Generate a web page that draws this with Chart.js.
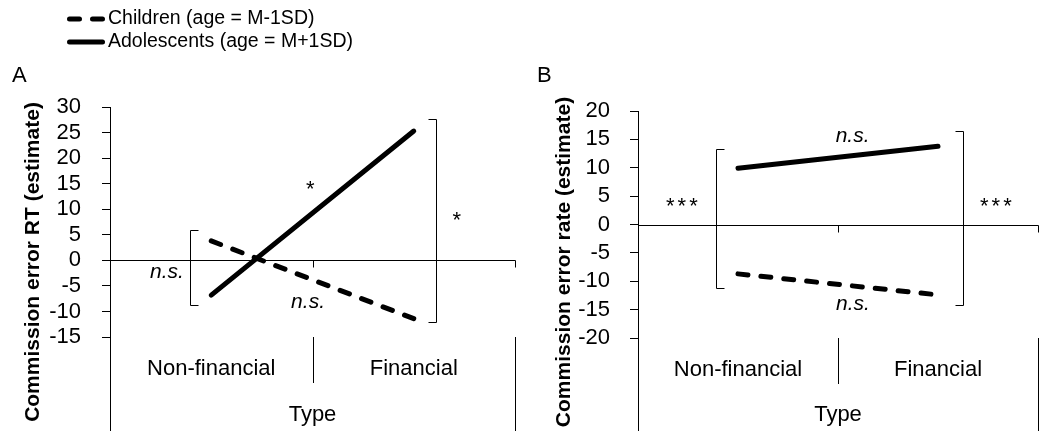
<!DOCTYPE html>
<html>
<head>
<meta charset="utf-8">
<script src="https://cdn.jsdelivr.net/npm/chart.js@4.4.1/dist/chart.umd.min.js"></script>
<style>
  html, body { margin: 0; padding: 0; background: #fff; }
  #wrap { position: relative; width: 1051px; height: 431px; }
  canvas { position: absolute; top: 0; }
</style>
</head>
<body>
<div id="wrap">
  <canvas id="chartA" width="525" height="431" style="left:0"></canvas>
  <canvas id="chartB" width="526" height="431" style="left:525px"></canvas>
</div>
<script>
const FONT = 'Liberation Sans';
Chart.defaults.font.family = FONT;
Chart.defaults.color = '#000';

const categories = ['Non-financial', 'Financial'];
const seriesNames = ['Children (age = M-1SD)', 'Adolescents (age = M+1SD)'];

// panel A - commission error RT
const childrenRT = [3.8, -11.4];
const adolescentsRT = [-6.8, 25.3];
const ticksRT = [-15, -10, -5, 0, 5, 10, 15, 20, 25, 30];

// panel B - commission error rate
const childrenRate = [-8.7, -12.4];
const adolescentsRate = [9.9, 13.8];
const ticksRate = [-20, -15, -10, -5, 0, 5, 10, 15, 20];

// brackets and significance marks, in axis units (x = category index)
const bracketsA = [
  {x: -0.105, top: 5.9, bottom: -8.75, dir: 1},
  {x: 1.11, top: 27.65, bottom: -12.0, dir: -1}
];
const notesA = [
  {x: -0.219, y: -3.46, text: 'n.s.', italic: true},
  {x: 0.478, y: -9.33, text: 'n.s.', italic: true},
  {x: 0.489, y: 12.5, text: '*'},
  {x: 1.212, y: 6.6, text: '*'}
];
const bracketsB = [
  {x: -0.11, top: 13.3, bottom: -11.25, dir: 1},
  {x: 1.127, top: 16.5, bottom: -14.2, dir: -1}
];
const notesB = [
  {x: 0.573, y: 14.6, text: 'n.s.', italic: true},
  {x: 0.575, y: -15.07, text: 'n.s.', italic: true},
  {x: -0.273, y: 2.0, text: '***'},
  {x: 1.297, y: 2.0, text: '***'}
];

// excel-like axis pieces, title, brackets, legend
const excelParts = {
  id: 'excelParts',
  beforeDatasetsDraw(chart) {
    const {ctx, chartArea: a, scales: {x, y}} = chart;
    const H = chart.height;
    const al = v => Math.round(v) + 0.5;
    const y0 = al(y.getPixelForValue(0));
    ctx.save();
    ctx.strokeStyle = '#000';
    ctx.lineWidth = 1;
    ctx.beginPath();
    ctx.moveTo(a.left, y0);
    ctx.lineTo(a.right + 0.5, y0);
    [0.5, 1.5].forEach(v => {
      const px = al(x.getPixelForValue(v));
      ctx.moveTo(px, y0);
      ctx.lineTo(px, y0 + 7);
    });
    // separators under the plot
    [-0.5, 0.5, 1.5].forEach(v => {
      const px = al(x.getPixelForValue(v));
      ctx.moveTo(px, a.bottom);
      ctx.lineTo(px, v === 0.5 ? a.bottom + 46 : H);
    });
    ctx.stroke();
    ctx.restore();
  },
  afterDraw(chart, args, o) {
    const {ctx, scales: {x, y}} = chart;
    const al = v => Math.round(v) + 0.5;
    ctx.save();
    ctx.fillStyle = '#000';
    ctx.strokeStyle = '#000';
    ctx.lineWidth = 1;

    // brackets
    ctx.beginPath();
    o.brackets.forEach(b => {
      const px = al(x.getPixelForValue(b.x));
      const t = al(y.getPixelForValue(b.top));
      const btm = al(y.getPixelForValue(b.bottom));
      ctx.moveTo(px + 8 * b.dir, t);
      ctx.lineTo(px, t);
      ctx.lineTo(px, btm);
      ctx.lineTo(px + 8 * b.dir, btm);
    });
    ctx.stroke();

    // notes
    ctx.textAlign = 'center';
    ctx.textBaseline = 'alphabetic';
    o.notes.forEach(n => {
      ctx.font = (n.italic ? 'italic 21px ' : '22px ') + FONT;
      ctx.letterSpacing = n.text === '***' ? '3px' : '0px';
      ctx.fillText(n.text, x.getPixelForValue(n.x), y.getPixelForValue(n.y));
    });
    ctx.letterSpacing = '0px';

    // panel letter
    ctx.textAlign = 'left';
    ctx.textBaseline = 'middle';
    ctx.font = '22px ' + FONT;
    ctx.fillText(o.letter, 12, 76);

    // y title
    ctx.save();
    ctx.translate(o.titleX, 262);
    ctx.rotate(-Math.PI / 2);
    ctx.textAlign = 'center';
    ctx.font = 'bold 21px ' + FONT;
    ctx.fillText(o.yTitle, 0, 0);
    ctx.restore();

    // legend
    if (o.legend) {
      chart.data.datasets.forEach((ds, i) => {
        const ly = [19, 42][i];
        ctx.save();
        ctx.lineWidth = ds.borderWidth;
        ctx.lineCap = 'round';
        ctx.setLineDash(ds.borderDash || []);
        ctx.beginPath();
        ctx.moveTo(69.5, ly);
        ctx.lineTo(102.5, ly);
        ctx.stroke();
        ctx.restore();
        ctx.font = '19.5px ' + FONT;
        ctx.textBaseline = 'middle';
        ctx.fillText(ds.label, 108, ly);
      });
    }
    ctx.restore();
  }
};

function makeChart(id, s) {
  return new Chart(document.getElementById(id), {
    type: 'line',
    data: {
      labels: categories,
      datasets: [{
        label: seriesNames[0],
        data: s.children,
        borderColor: '#000',
        borderWidth: 5,
        borderDash: [10, 13],
        borderCapStyle: 'round',
        pointRadius: 0,
        tension: 0
      }, {
        label: seriesNames[1],
        data: s.adolescents,
        borderColor: '#000',
        borderWidth: 5,
        borderCapStyle: 'round',
        pointRadius: 0,
        tension: 0
      }]
    },
    options: {
      responsive: false,
      animation: false,
      layout: { padding: { top: s.top, right: s.right, left: 0, bottom: 0 } },
      plugins: {
        legend: { display: false },
        tooltip: { enabled: false },
        excelParts: {
          letter: s.letter, yTitle: s.yTitle, titleX: s.titleX,
          brackets: s.brackets, notes: s.notes, legend: s.legend
        }
      },
      scales: {
        x: {
          offset: true,
          grid: { display: false, drawTicks: false },
          border: { display: false },
          ticks: { font: { size: 22 }, padding: 19, maxRotation: 0, autoSkip: false },
          title: { display: true, text: 'Type', font: { size: 22 }, padding: { top: 0, bottom: 3 } },
          afterFit: sc => { sc.height = s.xHeight; }
        },
        y: {
          min: Math.min(...s.ticks),
          max: Math.max(...s.ticks),
          afterBuildTicks: sc => { sc.ticks = s.ticks.map(v => ({value: v})); },
          ticks: { stepSize: 5, autoSkip: false, font: { size: 22 }, padding: s.tickPad },
          grid: { drawOnChartArea: false, drawTicks: true, tickLength: 8, color: '#000' },
          border: { display: true, color: '#000', width: 1 },
          afterFit: sc => { sc.width = s.yWidth; }
        }
      }
    },
    plugins: [excelParts]
  });
}

makeChart('chartA', {
  children: childrenRT, adolescents: adolescentsRT, ticks: ticksRT,
  top: 107, right: 10, xHeight: 94, yWidth: 110, tickPad: 21,
  letter: 'A', yTitle: 'Commission error RT (estimate)', titleX: 33,
  brackets: bracketsA, notes: notesA, legend: true
});

makeChart('chartB', {
  children: childrenRate, adolescents: adolescentsRate, ticks: ticksRate,
  top: 111, right: 13, xHeight: 93, yWidth: 113, tickPad: 20,
  letter: 'B', yTitle: 'Commission error rate (estimate)', titleX: 39,
  brackets: bracketsB, notes: notesB, legend: false
});
</script>
</body>
</html>
